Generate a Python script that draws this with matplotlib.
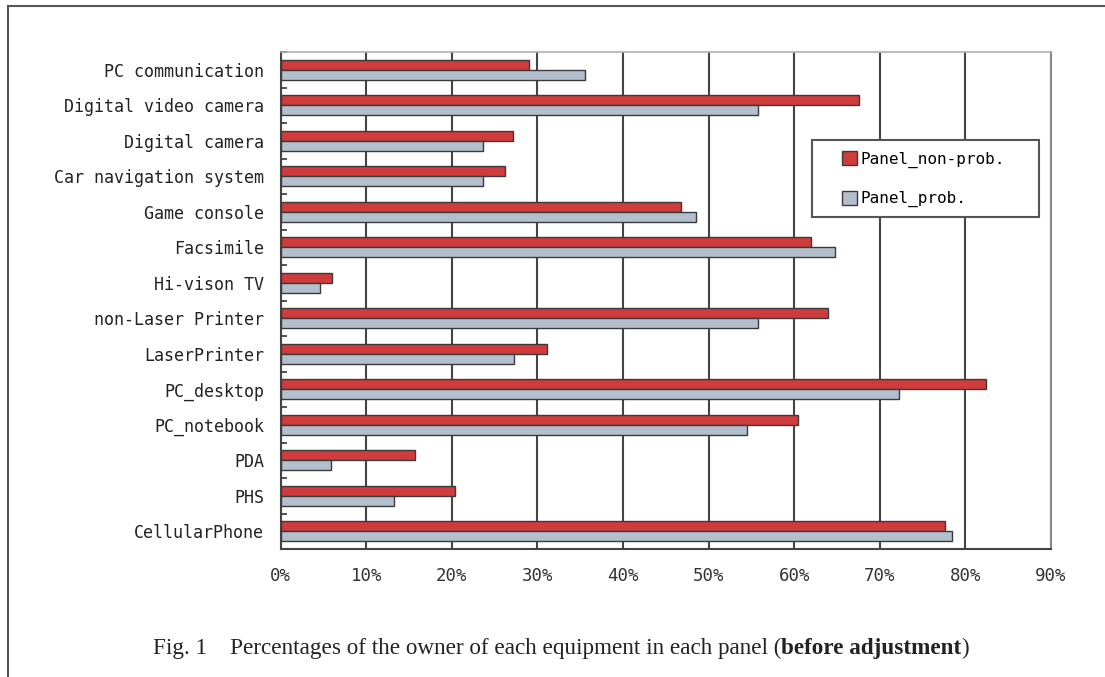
import numpy as np
import matplotlib.pyplot as plt
from matplotlib.patches import Rectangle
from matplotlib.lines import Line2D

# equipment list, top to bottom as in the figure
categories = ['PC communication', 'Digital video camera', 'Digital camera',
              'Car navigation system', 'Game console', 'Facsimile', 'Hi-vison TV',
              'non-Laser Printer', 'LaserPrinter', 'PC_desktop', 'PC_notebook',
              'PDA', 'PHS', 'CellularPhone']
non_prob = [29.0, 67.6, 27.1, 26.2, 46.8, 62.0, 6.0, 63.9, 31.1, 82.4, 60.4, 15.7, 20.4, 77.6]
prob = [35.6, 55.8, 23.6, 23.6, 48.5, 64.8, 4.6, 55.8, 27.3, 72.3, 54.5, 5.85, 13.3, 78.5]
xticks = [0, 10, 20, 30, 40, 50, 60, 70, 80, 90]
series_names = ['Panel_non-prob.', 'Panel_prob.']

mono = 'DejaVu Sans Mono'
red = '#d03b3b'
grey = '#b3bfcc'
edge = '#3a3a3a'
W, H = 1105, 677

fig = plt.figure(figsize=(W / 100, H / 100), dpi=100)
ax = fig.add_axes([0.254, 0.189, 0.697, 0.734])

y = np.arange(len(categories))
h = 0.28
b1 = ax.barh(y - h / 2, non_prob, height=h, color=red, edgecolor=edge, linewidth=1.0,
             label=series_names[0], zorder=3)
b2 = ax.barh(y + h / 2, prob, height=h, color=grey, edgecolor=edge, linewidth=1.0,
             label=series_names[1], zorder=3)

ax.set_xlim(0, 90)
ax.set_ylim(len(categories) - 0.5, -0.5)
ax.set_xticks(xticks)
ax.set_xticklabels([f'{v}%' for v in xticks], fontfamily=mono, fontsize=12.5, color='#333333')
ax.tick_params(axis='x', length=0, pad=13)
ax.set_yticks(y)
ax.set_yticklabels(categories, fontfamily=mono, fontsize=12, color='#222222')
ax.tick_params(axis='y', length=0, pad=12)
ax.set_yticks(np.arange(len(categories) + 1) - 0.5, minor=True)
ax.tick_params(axis='y', which='minor', direction='in', length=4, width=1.2, color='#333333')

ax.xaxis.grid(True, color='#444444', linewidth=1.5, zorder=1)
ax.set_axisbelow(True)
for s in ['left', 'bottom']:
    ax.spines[s].set_color('#444444')
    ax.spines[s].set_linewidth(1.5)
ax.spines['top'].set_color('#b0b0b0')
ax.spines['top'].set_linewidth(1.2)
ax.spines['right'].set_color('#888888')
ax.spines['right'].set_linewidth(1.5)

# legend box drawn by hand so it can be wider than its content
box = Rectangle((812 / W, 1 - 217 / H), (1039 - 812) / W, (217 - 140) / H,
                transform=fig.transFigure, facecolor='white', edgecolor='#555555',
                linewidth=1.5, zorder=4, clip_on=False)
ax.add_artist(box)
leg = ax.legend(handles=[b1, b2], loc='upper left', bbox_to_anchor=(842 / W, 1 - 151 / H),
                bbox_transform=fig.transFigure, prop={'family': mono, 'size': 11.5},
                frameon=False, handlelength=0.95, handleheight=0.95, handletextpad=0.2,
                labelspacing=1.45, borderpad=0, borderaxespad=0)
leg.set_zorder(5)

# outer page frame (top and left edges)
fig.add_artist(Line2D([8 / W, 1.0], [1 - 6 / H, 1 - 6 / H], transform=fig.transFigure,
                      color='#555555', linewidth=1.5))
fig.add_artist(Line2D([8 / W, 8 / W], [0, 1 - 6 / H], transform=fig.transFigure,
                      color='#555555', linewidth=1.5))

cap = dict(fontfamily='Liberation Serif', fontsize=16.7, color='#222222')
t1 = fig.text(153 / W, 1 - 648 / H,
              'Fig. 1    Percentages of the owner of each equipment in each panel (',
              va='center', **cap)
t2 = ax.annotate('before adjustment', xy=(1, 0), xycoords=t1, va='bottom', ha='left',
                 fontweight='bold', annotation_clip=False, **cap)
t3 = ax.annotate(')', xy=(1, 0), xycoords=t2, va='bottom', ha='left',
                 annotation_clip=False, **cap)

fig.savefig('out.png', dpi=100)
